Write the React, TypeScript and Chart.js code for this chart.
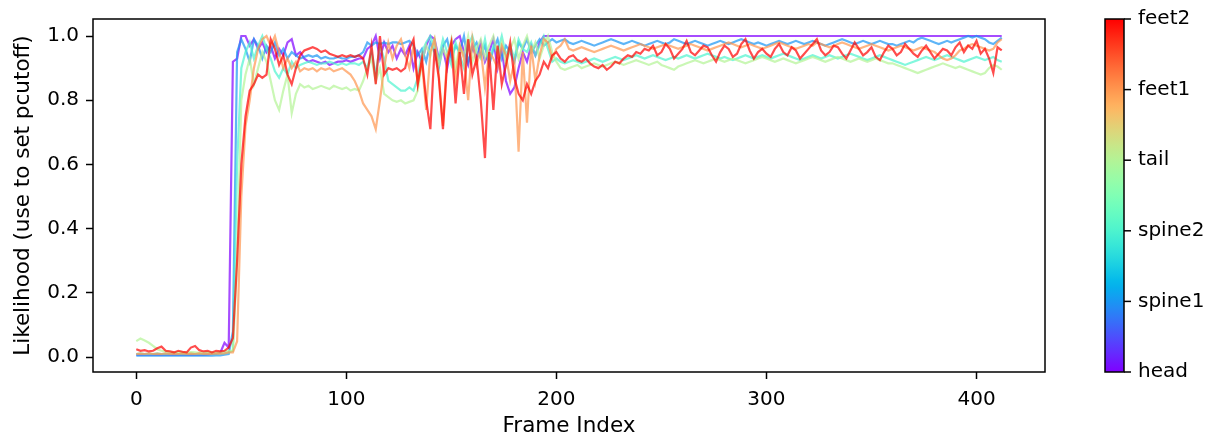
import React, { useEffect, useRef } from "react";
import { Chart, registerables } from "chart.js";

Chart.register(...registerables);

const FRAME_STEP = 2;
const BODYPARTS = ["head", "spine1", "spine2", "tail", "feet1", "feet2"];
const X_TICKS = [0, 100, 200, 300, 400];
const Y_TICKS = [0, 0.2, 0.4, 0.6, 0.8, 1.0];

const HEAD = [
  0.008,0.008,0.009,0.008,0.008,0.009,0.008,0.008,0.009,0.008,0.008,0.009,0.008,0.008,0.009,0.008,0.008,0.009,0.01,0.011,0.014,0.045,0.03,
  0.92,0.93,1.0,1.0,0.97,0.99,0.96,0.98,
  0.95,0.97,0.93,0.96,0.94,0.98,0.99,0.94,0.95,0.93,0.92,0.925,0.92,0.915,0.92,0.91,0.915,0.92,0.92,0.925,0.92,0.925,0.93,0.93,0.96,
  0.97,1.0,0.93,0.98,0.95,0.97,0.93,0.96,0.94,0.97,0.9,0.95,0.92,0.97,1.0,0.99,0.93,0.96,0.9,0.97,0.99,1.0,0.95,0.91,0.97,0.93,0.98,0.92,0.95,0.99,0.9,0.96,0.86,0.82,0.84,0.9,0.95,0.92,0.97,0.94,0.98,1.0,1.0,1.0,
  1,1,1,1,1,1,1,1,1,1,
  1,1,1,1,1,1,1,1,1,1,
  1,1,1,1,1,1,1,1,1,1,
  1,1,1,1,1,1,1,1,1,1,
  1,1,1,1,1,1,1,1,1,1,
  1,1,1,1,1,1,1,1,1,1,
  1,1,1,1,1,1,1,1,1,1,
  1,1,1,1,1,1,1,1,1,1,
  1,1,1,1,1,1,1,1,1,1,
  1,1,1,1,1,1,1,1,1,1,
  1,1,1,1,1,1,1,
];

const SPINE1 = [
  0.005,0.006,0.005,0.005,0.006,0.005,0.005,0.006,0.005,0.005,0.006,0.005,0.005,0.006,0.005,0.005,0.006,0.005,0.005,0.006,0.006,0.008,0.01,
  0.08,0.95,0.99,0.96,0.92,0.99,0.97,0.93,
  0.97,0.95,0.98,0.94,0.96,0.93,0.95,0.94,0.93,0.935,0.94,0.935,0.94,0.93,0.935,0.93,0.93,0.935,0.93,0.93,0.935,0.935,0.94,0.95,0.98,
  0.97,0.98,0.975,0.98,0.975,0.98,0.98,0.975,0.98,0.985,0.97,0.94,0.96,0.92,0.98,0.95,0.9,0.97,0.99,0.93,0.97,0.95,1.0,0.92,0.96,0.98,0.94,0.97,0.91,0.96,0.99,0.93,0.97,0.95,0.92,0.98,0.96,0.99,0.95,0.97,0.99,0.97,0.98,0.99,
  0.98,0.985,0.99,0.98,0.975,0.98,0.985,0.98,0.975,0.97,
  0.975,0.98,0.985,0.99,0.985,0.98,0.975,0.98,0.985,0.98,
  0.975,0.97,0.975,0.98,0.985,0.98,0.975,0.98,0.99,0.985,
  0.98,0.975,0.98,0.985,0.98,0.975,0.97,0.975,0.98,0.985,
  0.98,0.975,0.98,0.985,0.99,0.985,0.98,0.975,0.98,0.975,
  0.97,0.975,0.98,0.985,0.98,0.975,0.98,0.985,0.98,0.975,
  0.98,0.985,0.98,0.975,0.97,0.975,0.98,0.985,0.99,0.985,
  0.98,0.975,0.98,0.985,0.98,0.975,0.98,0.985,0.98,0.975,
  0.975,0.97,0.975,0.98,0.985,0.98,0.99,0.995,0.99,0.985,
  0.98,0.975,0.98,0.985,0.98,0.985,0.99,0.995,1.0,0.995,
  1.0,0.995,0.99,0.98,0.975,0.985,0.995,
];

const SPINE2 = [
  0.01,0.012,0.01,0.011,0.01,0.012,0.01,0.011,0.01,0.012,0.01,0.011,0.01,0.012,0.01,0.011,0.01,0.012,0.01,0.011,0.012,0.013,0.015,
  0.02,0.6,0.9,0.95,0.98,0.93,0.97,1.0,
  0.96,0.93,0.89,0.87,0.9,0.88,0.92,0.9,0.91,0.915,0.92,0.915,0.91,0.915,0.915,0.92,0.915,0.91,0.915,0.91,0.915,0.915,0.91,0.92,0.9,
  0.95,0.88,0.97,0.93,0.86,0.85,0.84,0.83,0.83,0.84,0.83,0.87,0.95,0.98,1.0,0.96,0.93,0.99,0.95,0.91,0.98,0.94,0.9,0.97,1.0,0.95,0.93,0.99,0.92,0.97,0.95,1.0,0.94,0.97,0.93,0.99,0.96,0.95,0.98,0.94,0.97,1.0,0.96,0.92,
  0.93,0.92,0.915,0.92,0.925,0.92,0.915,0.92,0.925,0.93,
  0.925,0.92,0.925,0.93,0.935,0.93,0.925,0.93,0.935,0.94,
  0.935,0.93,0.935,0.94,0.935,0.93,0.925,0.93,0.935,0.93,
  0.935,0.94,0.935,0.93,0.935,0.94,0.945,0.94,0.935,0.93,
  0.935,0.93,0.925,0.93,0.935,0.94,0.935,0.93,0.935,0.94,
  0.935,0.93,0.935,0.94,0.945,0.94,0.935,0.93,0.925,0.93,
  0.935,0.94,0.935,0.93,0.935,0.94,0.935,0.93,0.935,0.94,
  0.945,0.94,0.935,0.93,0.925,0.93,0.935,0.94,0.935,0.93,
  0.925,0.92,0.915,0.91,0.915,0.92,0.925,0.93,0.935,0.93,
  0.925,0.93,0.935,0.94,0.935,0.93,0.925,0.92,0.925,0.93,
  0.935,0.93,0.925,0.93,0.935,0.925,0.92,
];

const TAIL = [
  0.05,0.058,0.052,0.045,0.035,0.025,0.02,0.018,0.016,0.015,0.016,0.015,0.014,0.016,0.015,0.014,0.015,0.016,0.015,0.014,0.016,0.018,0.02,
  0.02,0.3,0.8,0.88,0.93,0.85,0.9,0.95,
  0.92,0.86,0.8,0.77,0.83,0.88,0.76,0.82,0.85,0.84,0.845,0.835,0.84,0.845,0.84,0.835,0.845,0.84,0.835,0.84,0.83,0.835,0.83,0.86,0.9,
  0.93,0.86,0.9,0.82,0.81,0.8,0.795,0.8,0.79,0.795,0.8,0.83,0.92,0.97,0.94,0.99,0.91,0.96,0.93,0.99,0.9,0.97,0.94,1.0,0.92,0.96,0.99,0.93,0.97,1.0,0.94,0.98,0.91,0.96,0.99,0.93,0.97,1.0,0.95,0.98,0.93,0.97,1.0,0.95,
  0.92,0.9,0.895,0.9,0.905,0.91,0.9,0.905,0.91,0.915,
  0.91,0.905,0.91,0.915,0.92,0.915,0.91,0.915,0.92,0.925,
  0.92,0.915,0.91,0.915,0.92,0.91,0.905,0.9,0.895,0.905,
  0.91,0.915,0.92,0.925,0.92,0.915,0.92,0.925,0.93,0.925,
  0.92,0.925,0.93,0.925,0.92,0.915,0.92,0.925,0.93,0.935,
  0.93,0.925,0.92,0.925,0.93,0.925,0.92,0.915,0.92,0.925,
  0.93,0.935,0.93,0.925,0.92,0.925,0.93,0.935,0.93,0.925,
  0.92,0.925,0.93,0.925,0.92,0.925,0.93,0.925,0.92,0.915,
  0.915,0.91,0.905,0.9,0.895,0.89,0.885,0.89,0.895,0.9,
  0.905,0.91,0.915,0.91,0.905,0.9,0.905,0.9,0.895,0.89,
  0.885,0.88,0.885,0.9,0.91,0.905,0.895,
];

const FEET1 = [
  0.01,0.011,0.01,0.012,0.01,0.011,0.01,0.012,0.01,0.011,0.01,0.012,0.01,0.011,0.01,0.012,0.01,0.011,0.01,0.012,0.011,0.012,0.015,
  0.015,0.05,0.5,0.72,0.8,0.9,0.96,0.99,
  1.0,0.97,1.0,0.95,0.9,0.93,0.9,0.92,0.89,0.9,0.895,0.9,0.89,0.9,0.895,0.9,0.89,0.895,0.9,0.89,0.88,0.86,0.83,0.79,0.77,
  0.75,0.71,0.8,0.9,0.98,0.93,0.97,0.99,0.94,0.9,0.97,0.85,0.92,0.77,0.95,0.99,0.88,0.72,0.94,0.98,0.86,0.97,0.93,0.8,0.99,0.91,0.96,0.84,0.95,0.93,0.9,0.97,0.94,0.86,0.92,0.64,0.95,0.73,0.97,0.86,0.94,0.99,0.98,0.93,
  0.96,0.97,0.99,0.96,0.955,0.96,0.965,0.96,0.955,0.95,
  0.955,0.96,0.965,0.97,0.965,0.96,0.955,0.96,0.965,0.97,
  0.975,0.97,0.965,0.96,0.965,0.97,0.975,0.97,0.965,0.96,
  0.965,0.97,0.975,0.97,0.965,0.96,0.955,0.96,0.965,0.97,
  0.975,0.98,0.975,0.97,0.965,0.97,0.975,0.97,0.965,0.96,
  0.965,0.97,0.975,0.98,0.975,0.97,0.965,0.96,0.965,0.97,
  0.975,0.97,0.98,0.975,0.97,0.965,0.97,0.975,0.98,0.975,
  0.97,0.965,0.96,0.965,0.97,0.975,0.97,0.965,0.96,0.955,
  0.96,0.965,0.97,0.965,0.96,0.955,0.96,0.965,0.96,0.955,
  0.95,0.94,0.93,0.925,0.93,0.94,0.955,0.96,0.97,0.975,
  0.97,0.965,0.96,0.955,0.96,0.98,0.99,
];

const FEET2 = [
  0.025,0.02,0.022,0.018,0.02,0.028,0.033,0.02,0.018,0.015,0.02,0.017,0.015,0.03,0.035,0.022,0.018,0.02,0.015,0.02,0.018,0.02,0.03,
  0.06,0.3,0.6,0.75,0.83,0.85,0.88,0.87,
  0.88,0.99,0.96,0.91,0.94,0.88,0.85,0.9,0.94,0.955,0.96,0.965,0.96,0.95,0.955,0.945,0.94,0.935,0.94,0.935,0.94,0.935,0.94,0.93,0.88,
  0.97,0.85,1.0,0.88,0.9,0.895,0.9,0.89,0.9,0.96,0.99,0.85,0.93,0.8,0.71,0.96,0.87,0.71,0.92,0.98,0.79,0.95,0.82,0.99,0.88,0.93,0.8,0.62,0.95,0.77,0.97,0.85,0.91,0.98,0.87,0.82,0.8,0.85,0.82,0.86,0.88,0.92,0.9,0.94,
  0.95,0.93,0.92,0.935,0.94,0.925,0.92,0.93,0.915,0.905,0.9,0.91,0.895,0.905,0.92,0.915,0.93,0.94,0.935,0.95,0.945,
  0.96,0.955,0.97,0.94,0.95,0.975,0.96,0.93,0.945,0.96,0.985,0.95,0.94,0.955,0.97,0.965,0.94,0.92,0.95,0.97,0.96,0.935,0.945,0.975,0.99,0.955,0.93,0.95,0.96,0.945,0.935,0.96,0.975,0.95,0.94,0.965,0.955,0.93,0.945,
  0.96,0.975,0.99,0.955,0.94,0.95,0.97,0.965,0.945,0.93,0.955,0.98,0.96,0.94,0.95,0.965,0.935,0.925,0.95,0.97,0.96,0.94,0.95,0.975,0.96,0.945,0.935,0.955,0.97,0.95,0.93,0.945,0.96,0.955,0.94,0.965,0.98,0.95,0.97,0.96,0.985,0.945,0.96,0.93,0.885,0.965,0.955,
];

const SERIES = [HEAD, SPINE1, SPINE2, TAIL, FEET1, FEET2];

function rainbow(t: number): [number, number, number] {
  const c = (v: number) => Math.round(Math.max(0, Math.min(1, v)) * 255);
  return [c(Math.abs(2 * t - 0.5)), c(Math.sin(Math.PI * t)), c(Math.cos((Math.PI * t) / 2))];
}

const FONT = "'DejaVu Sans', sans-serif";
const FS = 20;
const TITLE_FS = 21.5;

export default function App() {
  const ref = useRef<HTMLCanvasElement | null>(null);

  useEffect(() => {
    document.body.style.margin = "0";
    const canvas = ref.current;
    if (!canvas) return;

    const n = SERIES.length;
    const datasets = SERIES.map((vals, i) => {
      const [r, g, b] = rainbow(i / (n - 1));
      return {
        label: BODYPARTS[i],
        data: vals.map((v, k) => ({ x: k * FRAME_STEP, y: v })),
        borderColor: `rgba(${r},${g},${b},0.7)`,
        backgroundColor: `rgba(${r},${g},${b},0.7)`,
        borderWidth: 2.2,
        pointRadius: 0,
        tension: 0,
        fill: false,
        order: n - i,
      };
    });

    const framePlugin = {
      id: "frameAndColorbar",
      afterDatasetsDraw(chart: any) {
        const { ctx, chartArea } = chart;
        const { left, right, top, bottom } = chartArea;
        ctx.save();
        ctx.strokeStyle = "#000";
        ctx.lineWidth = 1.5;
        ctx.strokeRect(left, top, right - left, bottom - top);

        const cbL = 1105, cbR = 1124;
        const grad = ctx.createLinearGradient(0, bottom, 0, top);
        for (let s = 0; s <= 50; s++) {
          const t = s / 50;
          const [r, g, b] = rainbow(t);
          grad.addColorStop(t, `rgb(${r},${g},${b})`);
        }
        ctx.fillStyle = grad;
        ctx.fillRect(cbL, top, cbR - cbL, bottom - top);
        ctx.strokeRect(cbL, top, cbR - cbL, bottom - top);
        ctx.fillStyle = "#000";
        ctx.font = `${FS}px ${FONT}`;
        ctx.textAlign = "left";
        ctx.textBaseline = "middle";
        BODYPARTS.forEach((name, i) => {
          const y = bottom - (i / (n - 1)) * (bottom - top);
          ctx.beginPath();
          ctx.moveTo(cbR, y);
          ctx.lineTo(cbR + 7, y);
          ctx.stroke();
          ctx.fillText(name, cbR + 14, y);
        });
        ctx.restore();
      },
    };

    const chart = new Chart(canvas, {
      type: "line",
      data: { datasets },
      plugins: [framePlugin],
      options: {
        animation: false,
        responsive: false,
        devicePixelRatio: 1,
        layout: { padding: { left: 0, right: 168, top: 17, bottom: 0 } },
        plugins: { legend: { display: false }, tooltip: { enabled: false } },
        scales: {
          x: {
            type: "linear",
            min: -20.6,
            max: 432.6,
            afterFit: (s: any) => { s.height = 67; },
            afterBuildTicks: (s: any) => { s.ticks = X_TICKS.map((v) => ({ value: v })); },
            grid: { drawOnChartArea: false, drawTicks: true, tickLength: 7, tickColor: "#000", tickWidth: 1.5 },
            border: { display: false },
            ticks: { color: "#000", font: { family: FONT, size: FS }, padding: 9, maxRotation: 0, autoSkip: false },
            title: { display: true, text: "Frame Index", color: "#000", font: { family: FONT, size: TITLE_FS }, padding: { top: 0, bottom: 0 } },
          },
          y: {
            type: "linear",
            min: -0.046,
            max: 1.053,
            afterFit: (s: any) => { s.width = 93; },
            afterBuildTicks: (s: any) => { s.ticks = Y_TICKS.map((v) => ({ value: v })); },
            grid: { drawOnChartArea: false, drawTicks: true, tickLength: 7, tickColor: "#000", tickWidth: 1.5 },
            border: { display: false },
            ticks: { color: "#000", font: { family: FONT, size: FS }, padding: 7, autoSkip: false, callback: (v: any) => Number(v).toFixed(1) },
            title: { display: true, text: "Likelihood (use to set pcutoff)", color: "#000", font: { family: FONT, size: TITLE_FS }, padding: { top: 11, bottom: 0 } },
          },
        },
      },
    });

    return () => chart.destroy();
  }, []);

  return (
    <div style={{ width: 1213, height: 439, position: "relative" }}>
      <canvas ref={ref} width={1213} height={439} style={{ width: 1213, height: 439, display: "block" }} />
    </div>
  );
}
